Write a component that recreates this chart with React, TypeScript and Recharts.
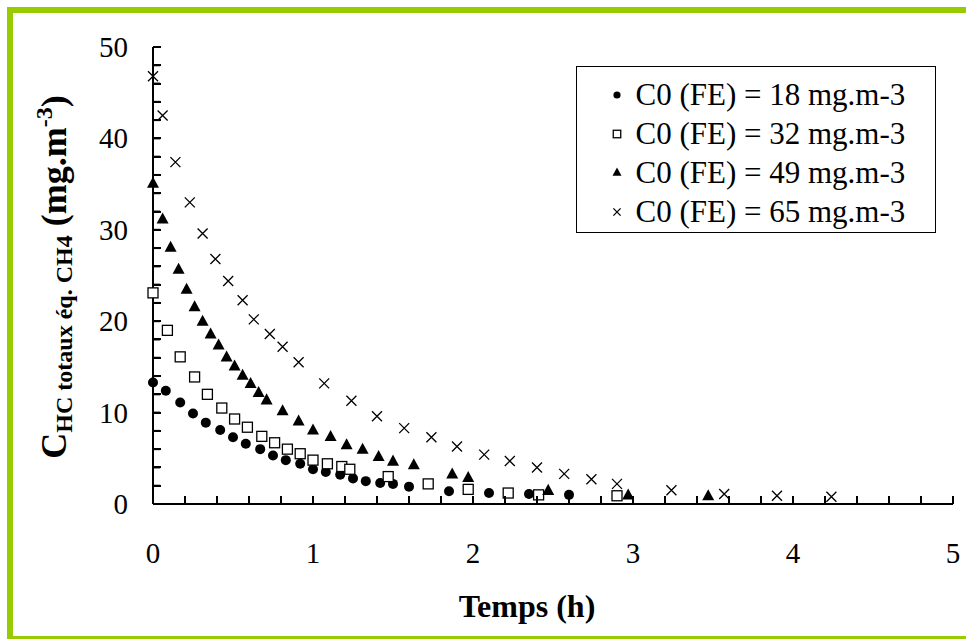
import React from "react";
import { ScatterChart, Scatter, XAxis, YAxis, Legend, ReferenceLine } from "recharts";

const FONT = '"Liberation Serif", "Times New Roman", serif';
const GREEN = "#99cc00";

// C0 (FE) = 18 mg.m-3
const t18 = [0, 0.08, 0.17, 0.25, 0.33, 0.42, 0.5, 0.58, 0.67, 0.75, 0.83, 0.92, 1.0, 1.08, 1.17, 1.25, 1.33, 1.42, 1.5, 1.6, 1.85, 2.1, 2.35, 2.6];
const c18 = [13.3, 12.4, 11.1, 9.9, 8.9, 8.1, 7.3, 6.6, 6.0, 5.3, 4.8, 4.4, 3.8, 3.5, 3.2, 2.8, 2.5, 2.3, 2.2, 1.9, 1.4, 1.2, 1.1, 1.0];

// C0 (FE) = 32 mg.m-3
const t32 = [0, 0.09, 0.17, 0.26, 0.34, 0.43, 0.51, 0.59, 0.68, 0.76, 0.84, 0.92, 1.0, 1.09, 1.18, 1.23, 1.47, 1.72, 1.97, 2.22, 2.41, 2.9];
const c32 = [23.1, 19.0, 16.1, 13.9, 12.0, 10.5, 9.3, 8.4, 7.4, 6.7, 6.0, 5.5, 4.8, 4.4, 4.1, 3.8, 3.0, 2.2, 1.6, 1.2, 1.0, 0.9];

// C0 (FE) = 49 mg.m-3
const t49 = [0, 0.06, 0.11, 0.16, 0.21, 0.26, 0.31, 0.36, 0.41, 0.46, 0.51, 0.56, 0.61, 0.66, 0.71, 0.81, 0.91, 1.0, 1.11, 1.21, 1.31, 1.41, 1.5, 1.63, 1.87, 1.97, 2.47, 2.97, 3.47];
const c49 = [35.0, 31.1, 28.0, 25.6, 23.4, 21.5, 19.9, 18.5, 17.3, 16.0, 15.0, 14.0, 13.1, 12.1, 11.3, 10.1, 9.0, 8.0, 7.3, 6.4, 5.9, 5.1, 4.6, 4.2, 3.2, 2.8, 1.4, 0.9, 0.8];

// C0 (FE) = 65 mg.m-3
const t65 = [0, 0.06, 0.14, 0.23, 0.31, 0.39, 0.47, 0.56, 0.63, 0.73, 0.81, 0.91, 1.07, 1.24, 1.4, 1.57, 1.74, 1.9, 2.07, 2.23, 2.4, 2.57, 2.74, 2.9, 3.24, 3.57, 3.9, 4.24];
const c65 = [46.8, 42.5, 37.4, 33.0, 29.6, 26.8, 24.4, 22.3, 20.2, 18.6, 17.2, 15.5, 13.2, 11.3, 9.6, 8.3, 7.3, 6.3, 5.4, 4.7, 4.0, 3.3, 2.7, 2.2, 1.5, 1.1, 0.9, 0.8];

const seriesNames = ["C0 (FE) = 18 mg.m-3", "C0 (FE) = 32 mg.m-3", "C0 (FE) = 49 mg.m-3", "C0 (FE) = 65 mg.m-3"];

const xTicks = [0, 0.2, 0.4, 0.6, 0.8, 1, 1.2, 1.4, 1.6, 1.8, 2, 2.2, 2.4, 2.6, 2.8, 3, 3.2, 3.4, 3.6, 3.8, 4, 4.2, 4.4, 4.6, 4.8, 5];
const xLabels = [0, 1, 2, 3, 4, 5];
const yTicks = [0, 2, 4, 6, 8, 10, 12, 14, 16, 18, 20, 22, 24, 26, 28, 30, 32, 34, 36, 38, 40, 42, 44, 46, 48, 50];
const yLabels = [0, 10, 20, 30, 40, 50];

// inward tick mark length, in data units of the other axis (~7 px)
const xTickLen = 0.8;
const yTickLen = 0.045;

const toPoints = (t: number[], c: number[]) => t.map((x, i) => ({ t: x, c: c[i] }));

const CircleMark = ({ cx, cy, r = 5 }: any) => <circle cx={cx} cy={cy} r={r} fill="#000" />;

const SquareMark = ({ cx, cy, s = 10 }: any) => (
  <rect x={cx - s / 2} y={cy - s / 2} width={s} height={s} fill="#fff" stroke="#000" strokeWidth={1.3} />
);

const TriangleMark = ({ cx, cy, s = 12 }: any) => {
  const h = s * 0.92;
  return (
    <polygon
      points={`${cx},${cy - (h * 2) / 3} ${cx + s / 2},${cy + h / 3} ${cx - s / 2},${cy + h / 3}`}
      fill="#000"
    />
  );
};

const CrossMark = ({ cx, cy, s = 5 }: any) => (
  <path
    d={`M${cx - s},${cy - s}L${cx + s},${cy + s}M${cx - s},${cy + s}L${cx + s},${cy - s}`}
    stroke="#000"
    strokeWidth={1.3}
    fill="none"
  />
);

const legendIcon = (i: number) => {
  if (i === 0) return <CircleMark cx={10} cy={10} r={3.6} />;
  if (i === 1) return <SquareMark cx={10} cy={10} s={7.5} />;
  if (i === 2) return <TriangleMark cx={10} cy={10} s={9} />;
  return <CrossMark cx={10} cy={10} s={3.6} />;
};

const XTick = (props: any) => {
  const x = Number(props.x);
  const y = Number(props.y);
  const v = props.payload.value;
  return (
    <g>
      <rect x={Math.round(x) - 1} y={Math.round(y) - 8} width={2} height={8} fill="#000" stroke="none" />
      {xLabels.includes(v) && (
        <text x={x} y={y + 59} textAnchor="middle" fontSize={29} fontFamily={FONT} fill="#000" stroke="none">
          {v}
        </text>
      )}
    </g>
  );
};

const YTick = (props: any) => {
  const x = Number(props.x);
  const y = Number(props.y);
  const v = props.payload.value;
  return (
    <g>
      <rect x={Math.round(x)} y={Math.round(y) - 1} width={8} height={2} fill="#000" stroke="none" />
      {yLabels.includes(v) && (
        <text x={x - 25} y={y + 10} textAnchor="end" fontSize={29} fontFamily={FONT} fill="#000" stroke="none">
          {v}
        </text>
      )}
    </g>
  );
};

const YTitle = () => (
  <text transform="translate(66,277) rotate(-90)" textAnchor="middle" fontFamily={FONT} fontWeight="bold" fill="#000">
    <tspan fontSize={36}>C</tspan>
    <tspan fontSize={24} dy={6}>HC totaux éq. CH4</tspan>
    <tspan fontSize={36} dy={-6}>{" (mg.m"}</tspan>
    <tspan fontSize={24} dy={-14}>-3</tspan>
    <tspan fontSize={36} dy={14}>)</tspan>
  </text>
);

const XTitle = () => (
  <text x={527} y={617} textAnchor="middle" fontFamily={FONT} fontWeight="bold" fontSize={32} fill="#000">
    Temps (h)
  </text>
);

const renderLegend = (props: any) => (
  <div
    style={{
      width: 360,
      height: 167,
      boxSizing: "border-box",
      border: "1.5px solid #000",
      background: "#fff",
      paddingTop: 8,
      fontFamily: FONT,
      fontSize: 31,
      color: "#000",
    }}
  >
    {(props.payload || []).map((entry: any, i: number) => (
      <div key={i} style={{ display: "flex", alignItems: "center", height: 39 }}>
        <svg width={20} height={20} style={{ marginLeft: 29.5, flex: "none" }}>
          {legendIcon(i)}
        </svg>
        <span style={{ marginLeft: 9, lineHeight: "39px", whiteSpace: "nowrap" }}>{entry.value}</span>
      </div>
    ))}
  </div>
);

export default function App() {
  return (
    <div style={{ position: "absolute", left: 0, top: 0, width: 966, height: 639, background: "#fff" }}>
      <div style={{ position: "absolute", left: 7, top: 7, width: 6, height: 632, background: GREEN }} />
      <div style={{ position: "absolute", left: 7, top: 7, width: 959, height: 6, background: GREEN }} />
      <div style={{ position: "absolute", left: 7, top: 636, width: 959, height: 3, background: GREEN }} />
      <div style={{ position: "absolute", left: 0, top: 0 }}>
        <ScatterChart width={966} height={639} margin={{ top: 47, right: 13, bottom: 75, left: 93 }}>
          <XAxis
            dataKey="t"
            type="number"
            domain={[0, 5]}
            ticks={xTicks}
            interval={0}
            tick={XTick}
            tickLine={false}
            tickSize={0}
            tickMargin={0}
            height={60}
            axisLine={{ stroke: "#000", strokeWidth: 2 }}
            label={{ content: XTitle }}
          />
          <YAxis
            dataKey="c"
            type="number"
            domain={[0, 50]}
            ticks={yTicks}
            interval={0}
            tick={YTick}
            tickLine={false}
            tickSize={0}
            tickMargin={0}
            width={60}
            axisLine={{ stroke: "#000", strokeWidth: 2 }}
            label={{ content: YTitle }}
          />
          {/* plain top and right axes close the plot frame */}
          <XAxis
            xAxisId="frame"
            orientation="top"
            type="number"
            domain={[0, 5]}
            tick={false}
            tickLine={false}
            height={0}
            axisLine={{ stroke: "#000", strokeWidth: 1.3 }}
          />
          <YAxis
            yAxisId="frame"
            orientation="right"
            type="number"
            domain={[0, 50]}
            tick={false}
            tickLine={false}
            width={0}
            axisLine={{ stroke: "#000", strokeWidth: 1.3 }}
          />
          {/* inward tick marks, drawn through the chart scales */}
          {xTicks.map((t) => (
            <ReferenceLine
              key={`xt${t}`}
              segment={[
                { x: t, y: 0 },
                { x: t, y: xTickLen },
              ]}
              stroke="#000"
              strokeWidth={2}
            />
          ))}
          {yTicks.map((v) => (
            <ReferenceLine
              key={`yt${v}`}
              segment={[
                { x: 0, y: v },
                { x: yTickLen, y: v },
              ]}
              stroke="#000"
              strokeWidth={2}
            />
          ))}
          <Legend
            layout="horizontal"
            verticalAlign="middle"
            align="center"
            content={renderLegend}
            wrapperStyle={{ left: 576, top: 66, width: 360, height: 167 }}
          />
          <Scatter
            name={seriesNames[0]}
            data={toPoints(t18, c18)}
            shape={(p: any) => <CircleMark cx={p.cx} cy={p.cy} />}
            isAnimationActive={false}
          />
          <Scatter
            name={seriesNames[1]}
            data={toPoints(t32, c32)}
            shape={(p: any) => <SquareMark cx={p.cx} cy={p.cy} />}
            isAnimationActive={false}
          />
          <Scatter
            name={seriesNames[2]}
            data={toPoints(t49, c49)}
            shape={(p: any) => <TriangleMark cx={p.cx} cy={p.cy} />}
            isAnimationActive={false}
          />
          <Scatter
            name={seriesNames[3]}
            data={toPoints(t65, c65)}
            shape={(p: any) => <CrossMark cx={p.cx} cy={p.cy} />}
            isAnimationActive={false}
          />
        </ScatterChart>
      </div>
    </div>
  );
}
